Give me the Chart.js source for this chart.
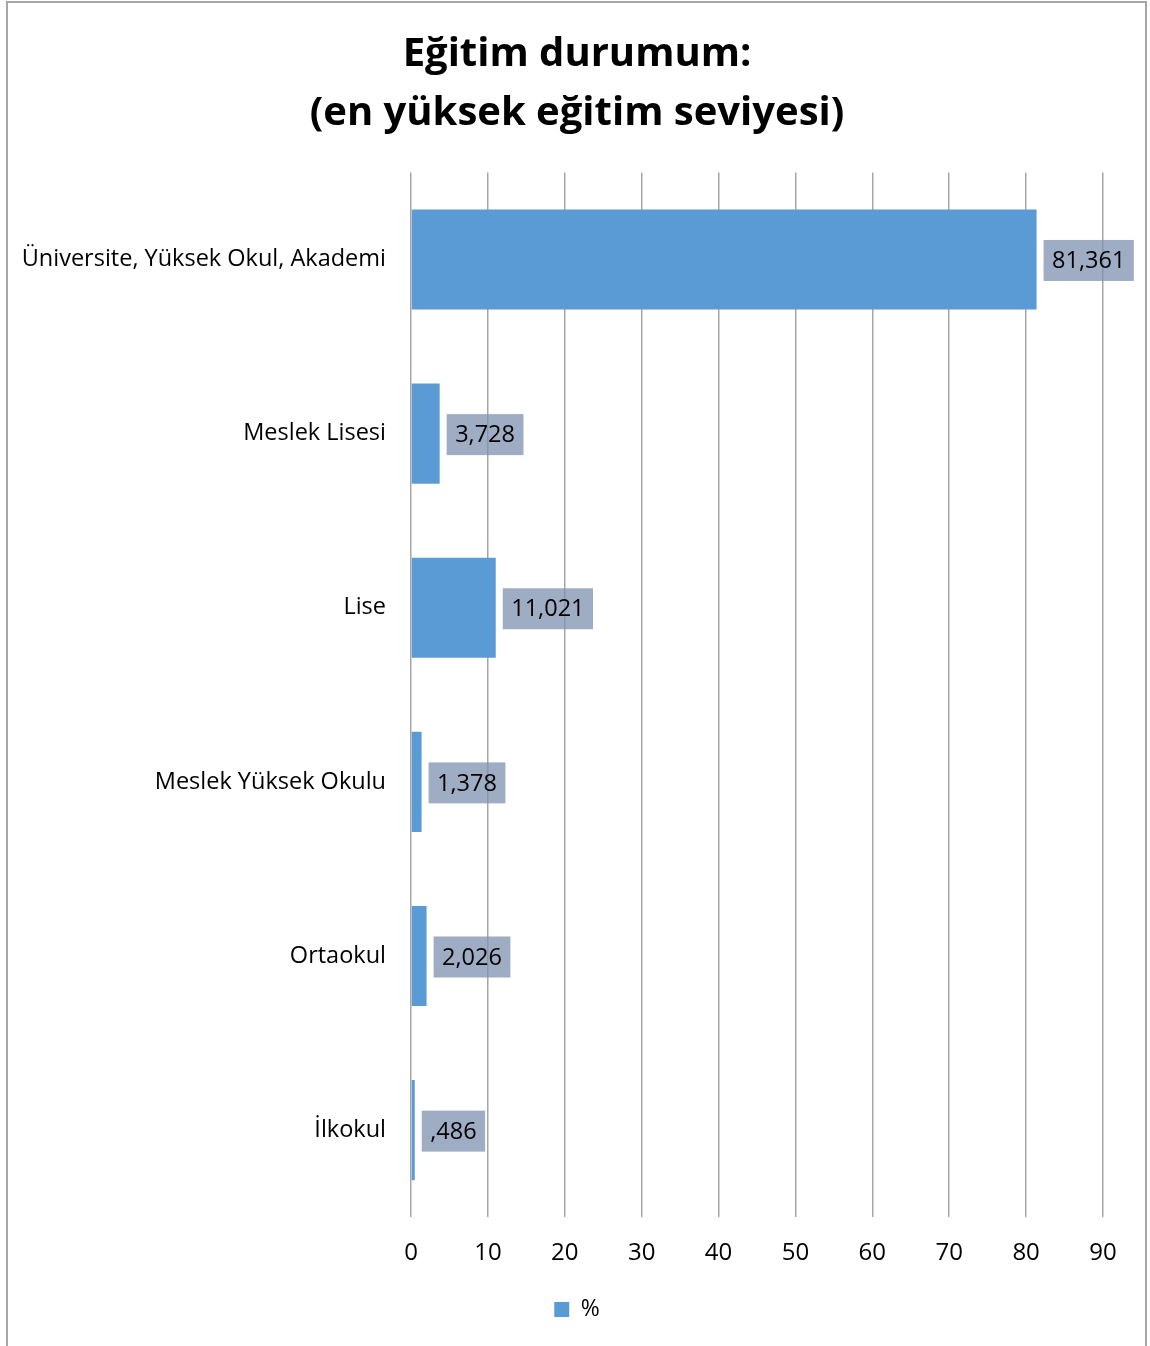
<!DOCTYPE html>
<html>
<head>
<meta charset="utf-8">
<script src="https://cdn.jsdelivr.net/npm/chart.js@4.4.1/dist/chart.umd.min.js"></script>
<style>
  html, body { margin: 0; padding: 0; background: #fff; }
  #frame { position: absolute; left: 6px; top: 1px; width: 1141px; height: 1400px; border: 2px solid #a6a6a6; box-sizing: border-box; }
  #wrap { position: absolute; left: 0; top: 0; width: 1150px; height: 1346px; }
</style>
</head>
<body>
<div id="frame"></div>
<div id="wrap"><canvas id="chart"></canvas></div>
<script>
const categories = ['Üniversite, Yüksek Okul, Akademi', 'Meslek Lisesi', 'Lise', 'Meslek Yüksek Okulu', 'Ortaokul', 'İlkokul'];
const percentValues = [81.361, 3.728, 11.021, 1.378, 2.026, 0.486];
const seriesLabel = '%';
const xTicks = [0, 10, 20, 30, 40, 50, 60, 70, 80, 90];

const FONT = "'Open Sans', 'DejaVu Sans', sans-serif";

// Türkçe ondalık biçimi: 81,361 / ,486
function formatValue(v) {
  let s = v.toFixed(3).replace('.', ',');
  if (s.startsWith('0,')) s = s.substring(1);
  return s;
}

// Değer etiketleri: çubuğun sağında yarı saydam kutu
const valueLabels = {
  id: 'valueLabels',
  afterDatasetsDraw(chart) {
    const ctx = chart.ctx;
    const meta = chart.getDatasetMeta(0);
    ctx.save();
    ctx.font = '23.5px ' + FONT;
    ctx.textBaseline = 'middle';
    meta.data.forEach((bar, i) => {
      const text = formatValue(percentValues[i]);
      const w = ctx.measureText(text).width + 17;
      const h = 41;
      const x = bar.x + 7;
      const y = bar.y - h / 2 + 1;
      ctx.fillStyle = 'rgba(127,146,176,0.75)';
      ctx.fillRect(x, y, w, h);
      ctx.fillStyle = '#000';
      ctx.textAlign = 'left';
      ctx.fillText(text, x + 8.5, bar.y + 2);
    });
    ctx.restore();
  }
};

// Sol dolgu başlığı ortalamak için; uzun kategori etiketi kırpılmasın
const widenLabelArea = {
  id: 'widenLabelArea',
  afterLayout(chart) { chart.scales.y.left = 0; }
};

new Chart(document.getElementById('chart'), {
  type: 'bar',
  data: {
    labels: categories,
    datasets: [{
      label: seriesLabel,
      data: percentValues,
      backgroundColor: '#5b9bd5',
      categoryPercentage: 1,
      barPercentage: 0.575
    }]
  },
  plugins: [valueLabels, widenLabelArea],
  options: {
    indexAxis: 'y',
    responsive: true,
    maintainAspectRatio: false,
    animation: false,
    layout: { padding: { left: 51, right: 47, top: 0, bottom: 15 } },
    plugins: {
      title: {
        display: true,
        text: ['Eğitim durumum:', '(en yüksek eğitim seviyesi)'],
        color: '#000',
        font: { family: FONT, size: 40, weight: 'bold', lineHeight: 1.48 },
        padding: { top: 25, bottom: 29 }
      },
      legend: {
        position: 'bottom',
        labels: {
          color: '#000',
          font: { family: FONT, size: 23 },
          boxWidth: 15,
          boxHeight: 15,
          padding: 8
        }
      },
      tooltip: { enabled: false }
    },
    scales: {
      x: {
        min: 0,
        max: 90,
        afterBuildTicks: s => { s.ticks = xTicks.map(v => ({ value: v })); },
        grid: { color: '#a6a6a6', lineWidth: 1.5, drawTicks: false },
        border: { display: false },
        ticks: { color: '#000', font: { family: FONT, size: 24 }, padding: 22 }
      },
      y: {
        afterFit: s => { s.width = 360; },
        grid: { display: false, drawTicks: false },
        border: { display: false },
        ticks: { color: '#000', font: { family: FONT, size: 23.5 }, padding: 25 }
      }
    }
  }
});
</script>
</body>
</html>
